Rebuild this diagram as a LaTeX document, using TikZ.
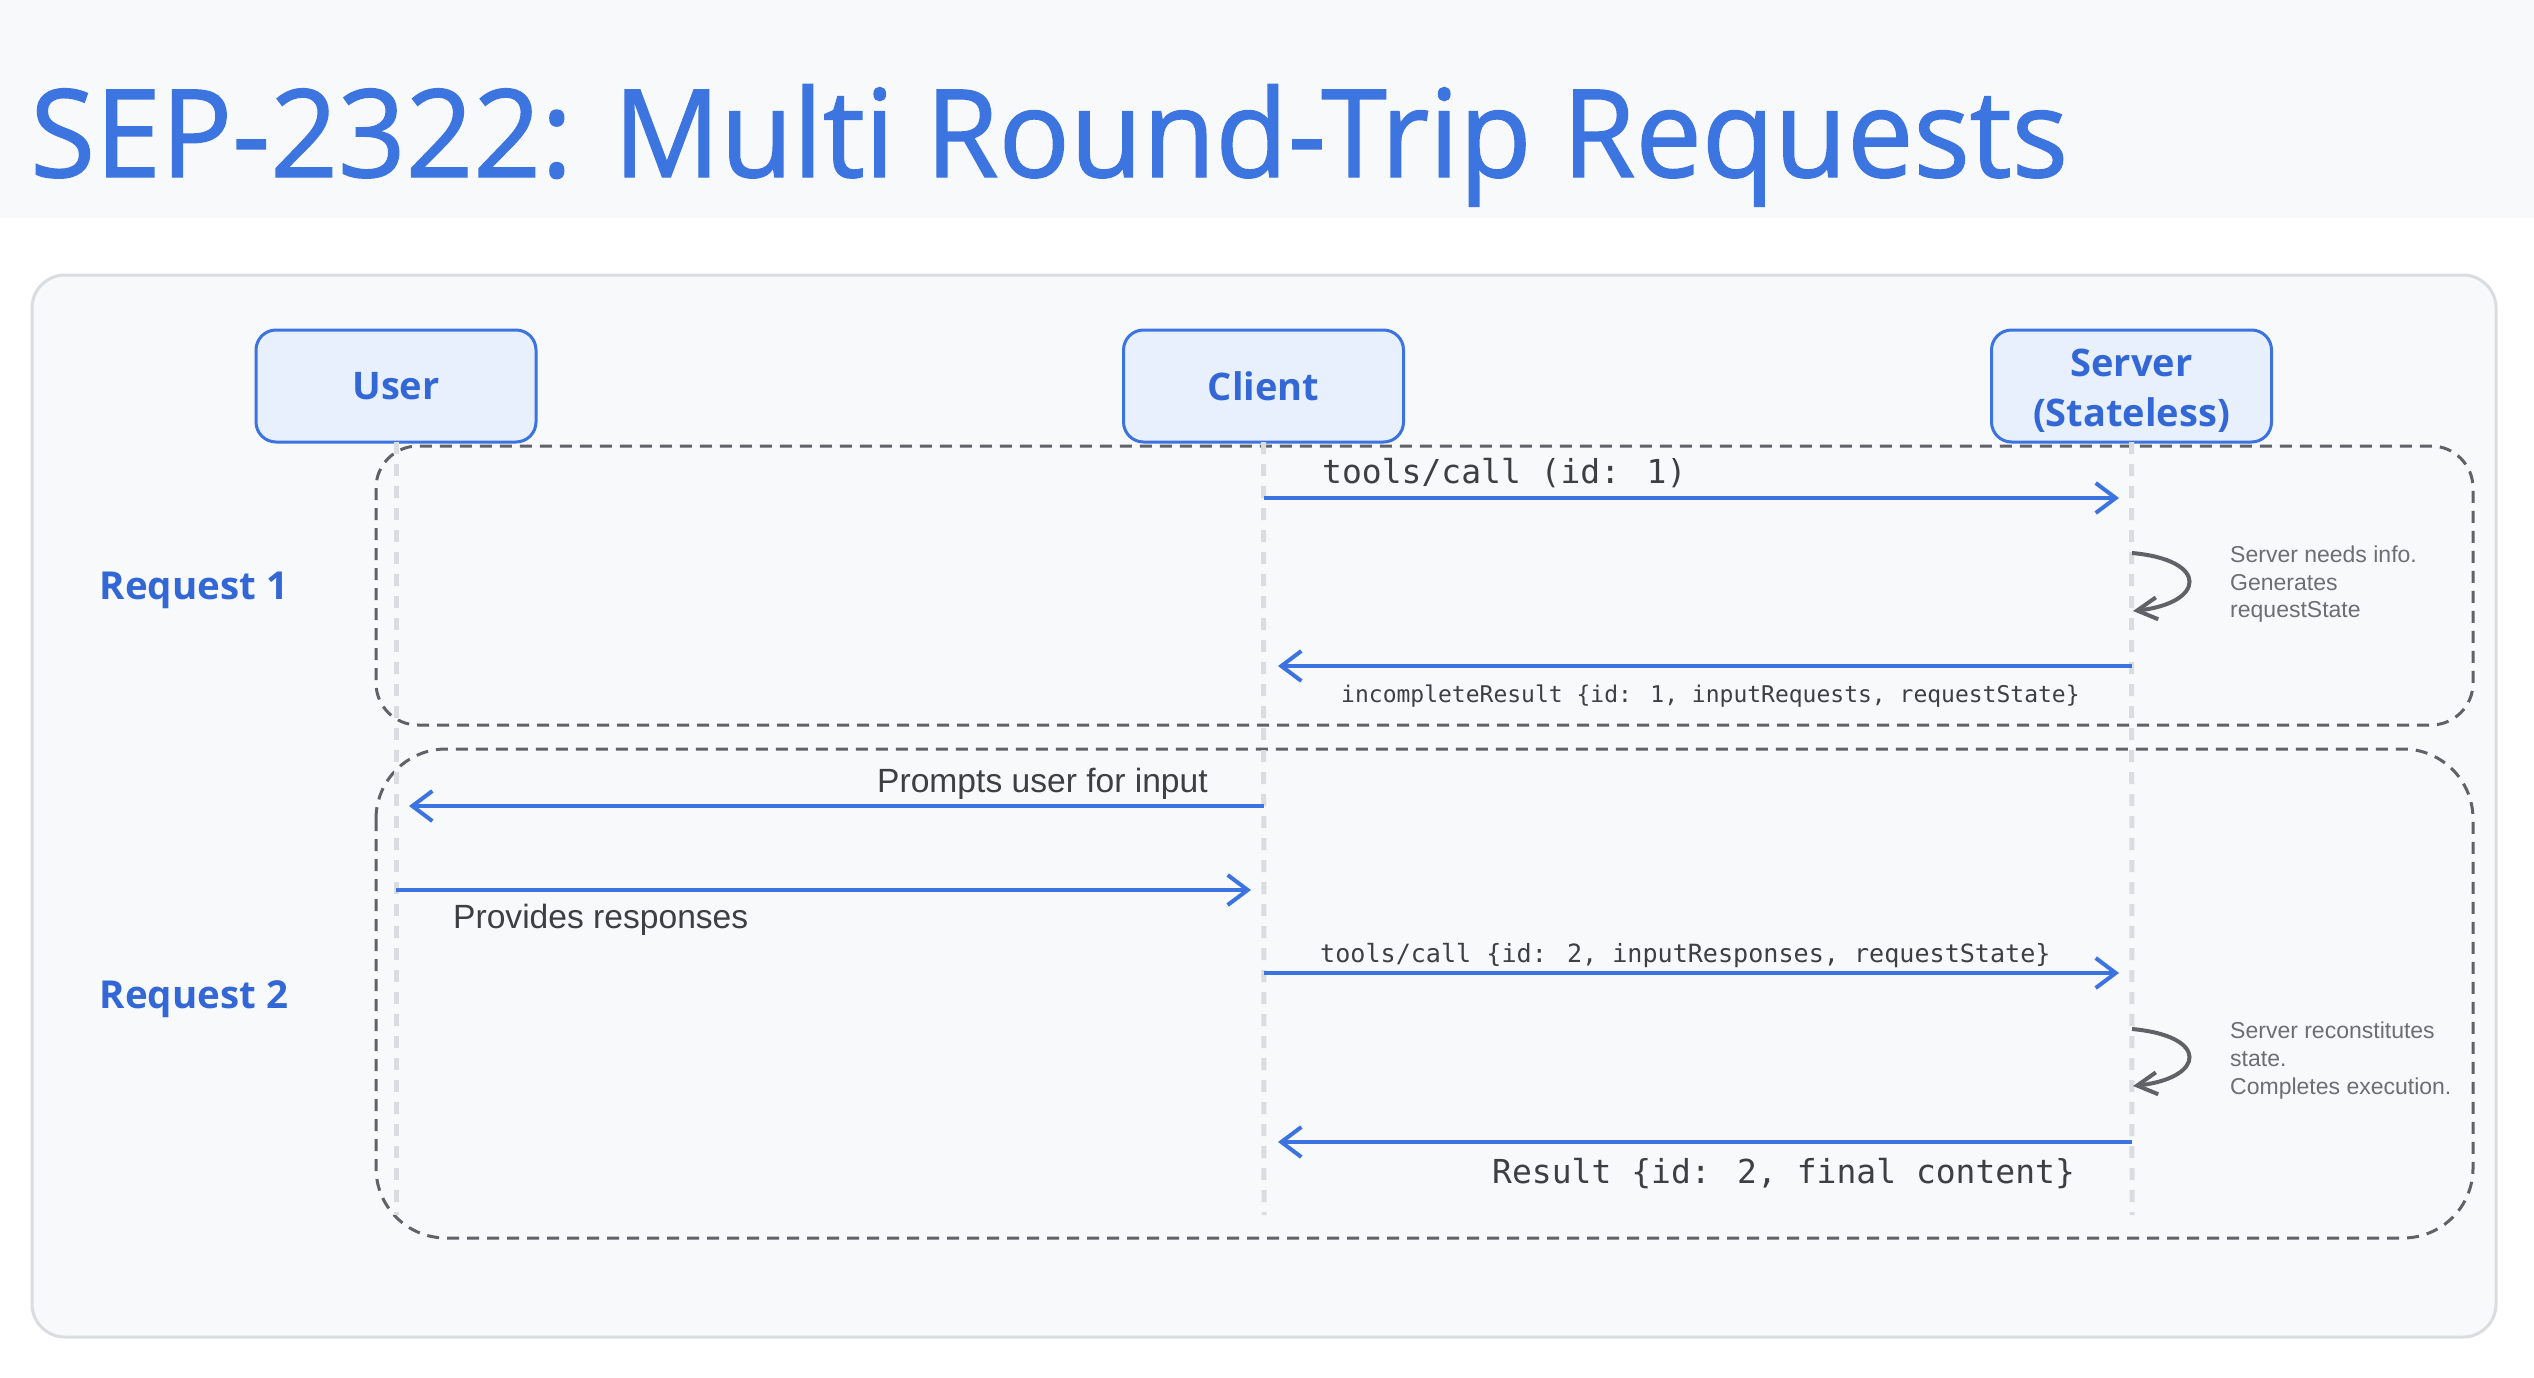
\documentclass[tikz,border=0pt]{standalone}
\usepackage{fontspec}
\usepackage{graphicx}
\setmainfont{Liberation Sans}
\newfontfamily\headfont{Open Sans}
\newfontfamily\titlefont{Open Sans}[FakeBold=1.2]
\newfontfamily\codefont{DejaVu Sans Mono}
\usetikzlibrary{arrows.meta}
\definecolor{bandbg}{HTML}{F8F9FA}
\definecolor{panelbg}{HTML}{F8F9FA}
\definecolor{panelborder}{HTML}{DADCE0}
\definecolor{lineblue}{HTML}{3B73E0}
\definecolor{titleblue}{HTML}{3C74E0}
\definecolor{boxfill}{HTML}{E8F0FE}
\definecolor{labelblue}{HTML}{3367D6}
\definecolor{lifegrey}{HTML}{DADCE0}
\definecolor{groupgrey}{HTML}{5F6368}
\definecolor{textdark}{HTML}{3C4043}
\definecolor{notegrey}{HTML}{6B6E72}
\begin{document}
\begin{tikzpicture}[x=1pt,y=-1pt,
  actor/.style={draw=lineblue, line width=3pt, fill=boxfill, rounded corners=20pt,
    minimum width=280pt, minimum height=112pt, inner sep=0pt, text=labelblue,
    font=\headfont\bfseries\fontsize{38}{50}\selectfont, align=center},
  lifeline/.style={draw=lifegrey, line width=5pt, dash pattern=on 12pt off 10pt},
  groupbox/.style={draw=groupgrey, line width=3pt, dash pattern=on 12pt off 8pt},
  msg/.style={draw=lineblue, line width=4pt, -{Straight Barb[length=20pt,width=30pt]}},
  selfloop/.style={draw=groupgrey, line width=4pt, -{Straight Barb[length=20pt,width=22pt]}},
  msglabel/.style={anchor=base west, inner sep=0pt, text=textdark},
  codebig/.style={font=\codefont\fontsize{33}{40}\selectfont},
  sanslabel/.style={font=\fontsize{33.6}{40}\selectfont},
  note/.style={anchor=base west, inner sep=0pt, text=notegrey, font=\fontsize{23}{28}\selectfont},
  grouplabel/.style={text=labelblue, inner sep=0pt, font=\headfont\bfseries\fontsize{38.5}{46}\selectfont}
]
\useasboundingbox (0,0) rectangle (2534,1378);
\fill[white] (0,0) rectangle (2534,1378);
\fill[bandbg] (0,0) rectangle (2534,218);
\node[anchor=base west, inner sep=0pt, text=titleblue,
  font=\titlefont\fontsize{122}{140}\selectfont] (title) at (30,177)
  {\scalebox{0.97}[1]{SEP-2322: Multi Round-Trip Requests}};

% panel
\draw[fill=panelbg, draw=panelborder, line width=3pt, rounded corners=33pt]
  (32,275) rectangle (2496,1337);

% groups
\draw[groupbox, rounded corners=42pt] (376,446) rectangle (2473,725);
\draw[groupbox, rounded corners=70pt] (376,749) rectangle (2473,1238);
\node[grouplabel] (req1) at (194,590) {Request 1};
\node[grouplabel] (req2) at (194,999) {Request 2};

% participants
\node[actor] (user) at (396,386) {User};
\node[actor] (client) at (1263.5,386) {Client};
\node[actor] (server) at (2131.5,386)
  {\raisebox{-5pt}[\height][\depth]{\begin{tabular}{@{}c@{}}Server\\(Stateless)\end{tabular}}};

% lifelines
\coordinate (uEnd) at (396,1215);
\coordinate (cEnd) at (1264,1215);
\coordinate (sEnd) at (2132,1215);
\draw[lifeline] ([yshift=1.5pt]user.south) -- (uEnd);
\draw[lifeline] ([yshift=1.5pt]client.south) -- (cEnd);
\draw[lifeline] ([yshift=1.5pt]server.south) -- (sEnd);

% message anchor points on lifelines
\coordinate (c1) at (1264,498);  \coordinate (s1) at (2132,498);
\coordinate (s2) at (2132,666);  \coordinate (c2) at (1264,666);
\coordinate (c3) at (1264,806);  \coordinate (u3) at (396,806);
\coordinate (u4) at (396,890);   \coordinate (c4) at (1264,890);
\coordinate (c5) at (1264,973);  \coordinate (s5) at (2132,973);
\coordinate (s6) at (2132,1142); \coordinate (c6) at (1264,1142);
\coordinate (la1) at (2132,553); \coordinate (lb1) at (2133,611);
\coordinate (la2) at (2132,1029); \coordinate (lb2) at (2133,1086);

% messages
\draw[msg, shorten >=13pt] (c1) -- (s1);
\node[msglabel, codebig] (m1) at (1322,483) {tools/call (id: 1)};

\draw[selfloop] (la1) .. controls (2210,560) and (2205,603) .. (lb1);
\node[note] (n1a) at (2230,562) {Server needs info.};
\node[note] (n1b) at (2230,590) {Generates};
\node[note] (n1c) at (2230,617) {requestState};

\draw[msg, shorten >=14pt] (s2) -- (c2);
\node[msglabel, font=\codefont\fontsize{23}{28}\selectfont] (m2) at (1341,702)
  {incompleteResult \{id: 1, inputRequests, requestState\}};

\draw[msg, shorten >=13pt] (c3) -- (u3);
\node[msglabel, sanslabel] (m3) at (877,792) {Prompts user for input};

\draw[msg, shorten >=13pt] (u4) -- (c4);
\node[msglabel, sanslabel] (m4) at (453,928) {Provides responses};

\draw[msg, shorten >=13pt] (c5) -- (s5);
\node[msglabel, font=\codefont\fontsize{25.1}{30}\selectfont] (m5) at (1320,962)
  {tools/call \{id: 2, inputResponses, requestState\}};

\draw[selfloop] (la2) .. controls (2210,1036) and (2205,1078) .. (lb2);
\node[note] (n2a) at (2230,1038) {Server reconstitutes};
\node[note] (n2b) at (2230,1066) {state.};
\node[note] (n2c) at (2230,1094) {Completes execution.};

\draw[msg, shorten >=14pt] (s6) -- (c6);
\node[msglabel, codebig] (m6) at (1492,1183) {Result \{id: 2, final content\}};
\end{tikzpicture}
\end{document}
